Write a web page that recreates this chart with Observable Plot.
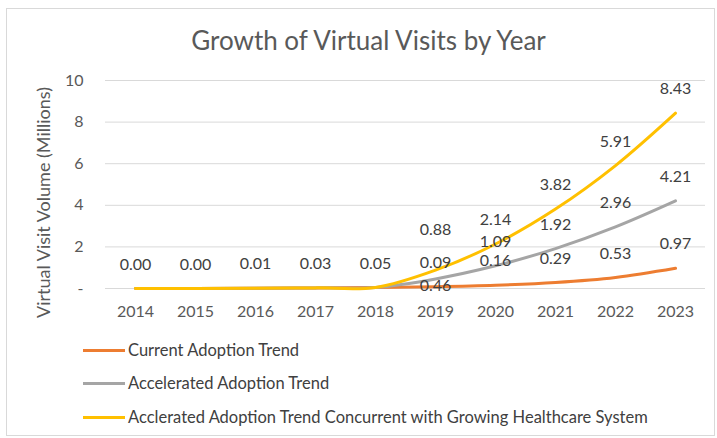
<!DOCTYPE html>
<html><head><meta charset="utf-8">
<script src="https://cdn.jsdelivr.net/npm/d3@7"></script>
<script src="https://cdn.jsdelivr.net/npm/@observablehq/plot@0.6"></script>
<style>
body{margin:0;background:#fff;}
#wrap{position:relative;width:717px;height:438px;overflow:hidden;font-family:Lato,"Open Sans",sans-serif;}
#frame{position:absolute;left:6px;top:8px;width:709px;height:428px;border:1px solid #d9d9d9;box-sizing:border-box;}
#title{position:absolute;left:10px;width:717px;top:24px;text-align:center;font-size:26px;color:#595959;}
#chart{position:absolute;left:0;top:0;}
.leg{position:absolute;left:83px;display:flex;align-items:center;font-size:16.5px;color:#404040;height:22px;}
.leg span.sw{display:inline-block;width:42px;height:3px;margin-right:3px;}
</style></head>
<body><div id="wrap"><div id="frame"></div><div id="chart"></div><div id="title">Growth of Virtual Visits by Year</div></div>
<script>
const years = ["2014","2015","2016","2017","2018","2019","2020","2021","2022","2023"];
const seriesNames = ["Current Adoption Trend","Accelerated Adoption Trend","Acclerated Adoption Trend Concurrent with Growing Healthcare System"];
const currentTrend = [0.00,0.00,0.01,0.03,0.05,0.09,0.16,0.29,0.53,0.97];
const acceleratedTrend = [0.00,0.00,0.01,0.03,0.05,0.46,1.09,1.92,2.96,4.21];
const growingSystemTrend = [0.00,0.00,0.01,0.03,0.05,0.88,2.14,3.82,5.91,8.43];
const seriesColors = ["#ED7D31","#A5A5A5","#FFC000"];
const yTicks = [0,2,4,6,8,10];

const allSeries = [currentTrend, acceleratedTrend, growingSystemTrend];
const rows = [];
allSeries.forEach((vals, si) => vals.forEach((v, i) => rows.push({year: years[i], value: v, series: seriesNames[si], si})));

// labels: shared years show once (from first series)
const labelRows = rows.filter(d => d.si === 0 || +d.year >= 2019);
const normalLabels = labelRows.filter(d => !(d.year === "2019" && d.si > 0));
const lowLabel = labelRows.filter(d => d.year === "2019" && d.si === 1);
const highLabel = labelRows.filter(d => d.year === "2019" && d.si === 2);

const txt = {text: d => d.value.toFixed(2), fontSize: 16, fill: "#404040", textAnchor: "middle"};

const plot = Plot.plot({
  width: 717, height: 328,
  marginLeft: 105, marginRight: 12, marginTop: 80, marginBottom: 40,
  style: {fontFamily: 'Lato,"Open Sans",sans-serif', background: "transparent"},
  x: {type: "point", domain: years, padding: 0.5, label: null},
  y: {domain: [0, 10], label: null},
  color: {domain: seriesNames, range: seriesColors},
  marks: [
    Plot.ruleY(yTicks, {stroke: "#d9d9d9", strokeWidth: 1}),
    Plot.axisX({tickSize: 0, tickPadding: 17, fontSize: 16, color: "#595959", label: null}),
    Plot.axisY({ticks: yTicks, tickSize: 0, tickPadding: 22, fontSize: 16, color: "#595959", label: null,
      tickFormat: d => d === 0 ? "-" : String(d)}),
    Plot.line(rows, {x: "year", y: "value", z: "series", stroke: "series", strokeWidth: 3, curve: "catmull-rom"}),
    Plot.text(normalLabels, {x: "year", y: "value", dy: -24, ...txt}),
    Plot.text(lowLabel, {x: "year", y: "value", dy: 7, ...txt}),
    Plot.text(highLabel, {x: "year", y: "value", dy: -40, ...txt}),
    Plot.text(["Virtual Visit Volume (Millions)"], {frameAnchor: "left", dx: -61, dy: 18, rotate: -90, fontSize: 18, fill: "#595959", textAnchor: "middle"})
  ]
});
document.getElementById("chart").appendChild(plot);

const wrap = document.getElementById("wrap");
const legTops = [339, 372, 406];
seriesNames.forEach((n, i) => {
  const d = document.createElement("div");
  d.className = "leg";
  d.style.top = legTops[i] + "px";
  d.innerHTML = `<span class="sw" style="background:${seriesColors[i]}"></span><span>${n}</span>`;
  wrap.appendChild(d);
});
</script></body></html>
